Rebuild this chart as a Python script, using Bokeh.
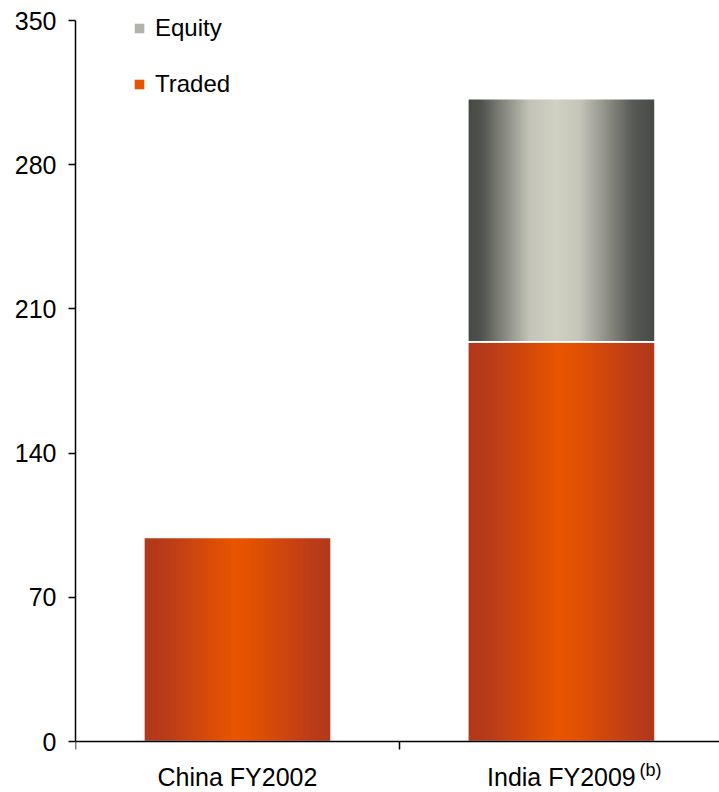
from bokeh.plotting import figure
from bokeh.models import (Range1d, LinearAxis, FixedTicker, ColumnDataSource,
                          Legend, LegendItem, Label)
from bokeh.embed import file_html
from bokeh.resources import INLINE

# ---- data -------------------------------------------------------------
categories = ["China FY2002", "India FY2009"]
traded = [99, 194]
equity = [0, 118]
y_ticks = [0, 70, 140, 210, 280, 350]
footnote = "(b)"

# ---- styling ----------------------------------------------------------
FONT = "Liberation Sans"
BAR_W = 0.578
N_STRIPS = 90
# the frame covers the whole canvas height; the value axis spans 20..741 px
Y_LO, Y_HI = -24.757, 359.709
X_HI = 1.988

# horizontal "cylinder" shading for each series: (position, colour) stops
TRADED_STOPS = [(0.0, "#b1381b"), (0.12, "#b93c19"), (0.47, "#e85400"),
                (0.55, "#e65300"), (0.88, "#be3d18"), (1.0, "#b1381b")]
EQUITY_STOPS = [(0.0, "#464944"), (0.07, "#4f524d"), (0.33, "#c3c3b7"),
                (0.47, "#d0d0c3"), (0.60, "#c4c4b8"), (0.88, "#585a55"),
                (1.0, "#464944")]


def hex_rgb(h):
    h = h.lstrip("#")
    return tuple(int(h[i:i + 2], 16) for i in (0, 2, 4))


def shade(stops, t):
    for (t0, c0), (t1, c1) in zip(stops[:-1], stops[1:]):
        if t0 <= t <= t1:
            f = 0 if t1 == t0 else (t - t0) / (t1 - t0)
            a, b = hex_rgb(c0), hex_rgb(c1)
            return "#%02x%02x%02x" % tuple(round(a[j] + (b[j] - a[j]) * f) for j in range(3))
    return stops[-1][1]


def strip_source(bottoms, tops, stops):
    """Split every stacked segment into thin vertical slices so each slice
    can carry its own colour of the shading profile.  Each slice overlaps
    the next one a little so no seams show between them."""
    d = dict(left=[], right=[], bottom=[], top=[], color=[])
    step = BAR_W / N_STRIPS
    for i, _ in enumerate(categories):
        if tops[i] <= bottoms[i]:
            continue
        x0 = i + 0.5 - BAR_W / 2
        x1 = i + 0.5 + BAR_W / 2
        for k in range(N_STRIPS):
            d["left"].append(x0 + k * step)
            d["right"].append(min(x0 + (k + 1.8) * step, x1))
            d["bottom"].append(bottoms[i])
            d["top"].append(tops[i])
            d["color"].append(shade(stops, (k + 0.5) / N_STRIPS))
    return ColumnDataSource(d)


def outline_source(bottoms, tops):
    d = dict(left=[], right=[], bottom=[], top=[])
    for i, _ in enumerate(categories):
        if tops[i] <= bottoms[i]:
            continue
        d["left"].append(i + 0.5 - BAR_W / 2)
        d["right"].append(i + 0.5 + BAR_W / 2)
        d["bottom"].append(bottoms[i])
        d["top"].append(tops[i])
    return ColumnDataSource(d)


zeros = [0] * len(categories)
eq_bottom = traded
eq_top = [t + e for t, e in zip(traded, equity)]

# ---- figure -------------------------------------------------------------
p = figure(width=719, height=792,
           x_range=Range1d(0, X_HI), y_range=Range1d(Y_LO, Y_HI),
           x_axis_type=None, y_axis_type=None,
           output_backend="svg", toolbar_location=None,
           min_border_left=75, min_border_right=0,
           min_border_top=0, min_border_bottom=0)
p.outline_line_color = None
p.grid.visible = False
p.background_fill_color = "white"

r_traded = p.quad(left="left", right="right", bottom="bottom", top="top",
                  fill_color="color", line_color=None,
                  source=strip_source(zeros, traded, TRADED_STOPS))
r_equity = p.quad(left="left", right="right", bottom="bottom", top="top",
                  fill_color="color", line_color=None,
                  source=strip_source(eq_bottom, eq_top, EQUITY_STOPS))

# thin white rims that separate the stacked segments
p.quad(left="left", right="right", bottom="bottom", top="top",
       fill_alpha=0, line_color="white", line_width=1.6,
       source=outline_source(zeros, traded))
p.quad(left="left", right="right", bottom="bottom", top="top",
       fill_alpha=0, line_color="white", line_width=1.6,
       source=outline_source(eq_bottom, eq_top))

# ---- axes ---------------------------------------------------------------
yaxis = LinearAxis(ticker=FixedTicker(ticks=y_ticks, minor_ticks=[]),
                   bounds=(y_ticks[0], y_ticks[-1]),
                   axis_line_color="black", axis_line_width=1.5,
                   major_tick_line_color="black", major_tick_line_width=1.5,
                   major_tick_out=7, major_tick_in=0,
                   minor_tick_line_color=None,
                   major_label_standoff=12,
                   major_label_text_font=FONT,
                   major_label_text_font_size="25px",
                   major_label_text_color="black")
p.add_layout(yaxis, "left")

centers = [i + 0.5 for i in range(len(categories))]
bounds = [float(i) for i in range(len(categories))]
xaxis = LinearAxis(ticker=FixedTicker(ticks=centers, minor_ticks=bounds),
                   major_label_overrides={c: name for c, name in zip(centers, categories)},
                   fixed_location=0,
                   axis_line_color="black", axis_line_width=1.5,
                   major_tick_line_color=None, major_tick_out=0, major_tick_in=0,
                   minor_tick_line_color="black", minor_tick_line_width=1.5,
                   minor_tick_out=8, minor_tick_in=0,
                   major_label_standoff=13,
                   major_label_text_font=FONT,
                   major_label_text_font_size="25px",
                   major_label_text_color="black")
p.add_layout(xaxis, "below")

# footnote marker next to the second category label
p.add_layout(Label(x=centers[1], y=-9.0, x_offset=78,
                   text=footnote, text_font=FONT, text_font_size="18px",
                   text_color="black", text_baseline="top", text_align="left"))

# ---- legend -------------------------------------------------------------
legend = Legend(items=[LegendItem(label="Equity", renderers=[r_equity], index=26),
                       LegendItem(label="Traded", renderers=[r_traded], index=45)],
                location=(58, 694), padding=0, margin=0, spacing=28,
                label_height=27, glyph_width=12, glyph_height=12,
                label_standoff=10, border_line_color=None,
                background_fill_alpha=0,
                label_text_font=FONT, label_text_font_size="24px",
                label_text_color="black")
p.add_layout(legend)

open("out.html", "w").write(file_html(p, INLINE))
